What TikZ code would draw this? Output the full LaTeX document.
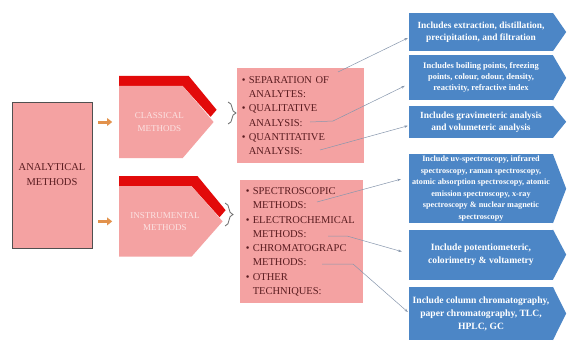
\documentclass[tikz,border=0pt]{standalone}
\usepackage{fontspec}
\setmainfont{Liberation Serif}
\usepackage{tikz}
\usetikzlibrary{positioning, arrows.meta, backgrounds, decorations.pathreplacing}
\usepackage{xcolor}
\definecolor{rosefill}{HTML}{F4A2A2}
\definecolor{bandred}{HTML}{E20A0A}
\definecolor{maroontext}{HTML}{5A1C20}
\definecolor{paletext}{HTML}{FBE2E2}
\definecolor{infoblue}{HTML}{4C86C6}
\definecolor{feedorange}{HTML}{E2924C}
\definecolor{pointerline}{HTML}{8797AD}
\definecolor{braceline}{HTML}{6A6A6A}
\definecolor{rootline}{HTML}{505050}

\newcommand{\listBullet}{\makebox[7pt][l]{\textbullet}}
\newcommand{\listIndent}{\hspace*{7pt}}

\begin{document}
\begin{tikzpicture}[
  x=1pt, y=1pt,
  rootNode/.style={draw=rootline, thin, fill=rosefill, minimum width=80pt, minimum height=146pt, align=center, inner sep=0pt, text=maroontext, font=\fontsize{10.5}{15}\selectfont},
  methodNode/.style={minimum height=72pt, inner sep=0pt},
  methodLabel/.style={text=paletext, align=center, font=\fontsize{9}{12.5}\selectfont},
  listNode/.style={fill=rosefill, align=left, inner ysep=0pt, text=maroontext, font=\fontsize{10.5}{14.3}\selectfont},
  infoNode/.style={fill=infoblue, minimum width=144pt, align=center, inner sep=0pt, text=white, font=\bfseries\fontsize{9.6}{13}\selectfont},
  feedArrow/.style={-{Triangle[length=5pt, width=7.5pt]}, line width=3pt, draw=feedorange, shorten <=6pt, shorten >=7pt},
  pointer/.style={-{Stealth[length=3.5pt, width=2.5pt]}, line width=0.5pt, draw=pointerline},
  groupBrace/.style={draw=braceline, line width=0.8pt, decorate, decoration={brace, amplitude=8pt}}
]

\useasboundingbox (0,0) rectangle (567,-348);

% Root box
\node[rootNode] (analytical) at (52,-175) {ANALYTICAL\\METHODS};

% Method arrows
\node[methodNode, minimum width=94pt, right=27pt of analytical, yshift=53pt,
      label={[methodLabel, name=classicalLbl, xshift=-7pt]center:CLASSICAL\\METHODS}] (classical) {};
\node[methodNode, minimum width=103pt, minimum height=70pt, below right=28pt and 0pt of classical.south west,
      label={[methodLabel, name=instrumentalLbl, xshift=-6pt]center:INSTRUMENTAL\\METHODS}] (instrumental) {};

% Detail lists
\node[listNode, text width=117pt, inner xsep=5pt, minimum height=95pt, right=23pt of classical, yshift=6.5pt] (classicalList)
  {\listBullet SEPARATION OF\\\listIndent ANALYTES:\\\listBullet QUALITATIVE\\\listIndent ANALYSIS:\\\listBullet QUANTITATIVE\\\listIndent ANALYSIS:};
\node[listNode, text width=111pt, inner xsep=6pt, minimum height=123pt, right=17pt of instrumental, yshift=-20.5pt] (instrumentalList)
  {\listBullet SPECTROSCOPIC\\\listIndent METHODS:\\\listBullet ELECTROCHEMICAL\\\listIndent METHODS:\\\listBullet CHROMATOGRAPC\\\listIndent METHODS:\\\listBullet OTHER\\\listIndent TECHNIQUES:};

% Info boxes
\node[infoNode, minimum height=38pt, font=\bfseries\fontsize{9.4}{12}\selectfont] (sepInfo) at (481,-32) {Includes extraction, distillation,\\precipitation, and filtration};
\node[infoNode, minimum height=45pt, below=4pt of sepInfo, font=\bfseries\fontsize{8.5}{11}\selectfont] (qualInfo) {Includes boiling points, freezing\\points, colour, odour, density,\\reactivity, refractive index};
\node[infoNode, minimum height=32pt, below=5pt of qualInfo, font=\bfseries\fontsize{9.4}{12}\selectfont] (quantInfo) {Includes gravimeteric analysis\\and volumeteric analysis};
\node[infoNode, minimum height=69pt, below=16pt of quantInfo, font=\bfseries\fontsize{8.2}{11.5}\selectfont] (specInfo) {Include uv-spectroscopy, infrared\\spectroscopy, raman spectroscopy,\\atomic absorption spectroscopy, atomic\\emission spectroscopy, x-ray\\spectroscopy \& nuclear magnetic\\spectroscopy};
\node[infoNode, minimum height=50pt, below=6pt of specInfo] (electroInfo) {Include potentiometeric,\\colorimetry \& voltametry};
\node[infoNode, minimum height=53pt, below=7pt of electroInfo] (chromInfo) {Include column chromatography,\\paper chromatography, TLC,\\HPLC, GC};

\foreach \info in {sepInfo, qualInfo, quantInfo, specInfo, electroInfo, chromInfo}
  \fill[infoblue] ([xshift=-0.3pt]\info.north east) -- ([xshift=13pt]\info.east) -- ([xshift=-0.3pt]\info.south east) -- cycle;

% Pentagon fills with the red band on top
\begin{scope}[on background layer]
  \fill[white] (0,0) rectangle (567,-348);
  \foreach \m in {classical, instrumental} {
    \fill[bandred] ([yshift=10pt]\m.north west) -- ([xshift=-25pt, yshift=10pt]\m.north east)
      -- ([xshift=3pt, yshift=-24pt]\m.north east) -- ([xshift=-3pt, yshift=-31pt]\m.north east)
      -- ([xshift=-31pt]\m.north east) -- (\m.north west) -- cycle;
    \fill[rosefill] (\m.north west) -- ([xshift=-31pt]\m.north east) -- (\m.east)
      -- ([xshift=-31pt]\m.south east) -- (\m.south west) -- cycle;
  }
\end{scope}

% Feed arrows
\draw[feedArrow] (analytical.east |- classical.west) -- (classical.west);
\draw[feedArrow] (analytical.east |- instrumental.west) -- (instrumental.west);

% Braces
\draw[groupBrace] (228,-102) -- (228,-124);
\draw[groupBrace] (225,-203) -- (225,-226);

% Pointers
\coordinate (sepEnd) at (338,-72);
\coordinate (qualEnd) at (310,-122);
\coordinate (quantEnd) at (320,-150);
\coordinate (specEnd) at (317,-202);
\coordinate (electroEnd) at (328,-236);
\coordinate (chromEnd) at (322,-264);

\draw[pointer] (sepEnd) -- ([xshift=-1pt, yshift=-6pt]sepInfo.west);
\draw[pointer] (qualEnd) -- ++(23,1) -- ([xshift=-4pt, yshift=-8pt]qualInfo.west);
\draw[pointer] (quantEnd) -- ([xshift=-1pt, yshift=-4pt]quantInfo.west);
\draw[pointer] (specEnd) -- ([xshift=-8pt, yshift=9.5pt]specInfo.west);
\draw[pointer] (electroEnd) -- ++(19,0) -- ([xshift=-7pt, yshift=3pt]electroInfo.west);
\draw[pointer] (chromEnd) -- ++(31,0) -- ([xshift=-1pt, yshift=1.5pt]chromInfo.west);

\end{tikzpicture}
\end{document}
